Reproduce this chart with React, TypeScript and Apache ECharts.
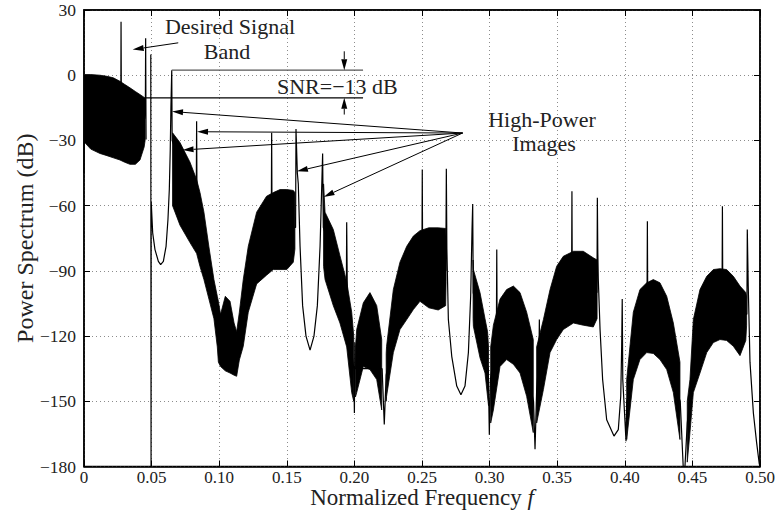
import React, { useEffect, useRef } from 'react';
import * as echarts from 'echarts';

const FONT = 'Liberation Serif, DejaVu Serif, serif';

// Axis ranges / tick labels
const X_MIN = 0, X_MAX = 0.5, X_STEP = 0.05;
const Y_MIN = -180, Y_MAX = 30, Y_STEP = 30;
const xTickLabels = ['0', '0.05', '0.10', '0.15', '0.20', '0.25', '0.30', '0.35', '0.40', '0.45', '0.50'];
const yTickLabels = ['\u2212180', '\u2212150', '\u2212120', '\u221290', '\u221260', '\u221230', '0', '30'];

// Dense (rapidly oscillating) spectrum regions: [f, upper envelope dB, lower envelope dB]
const band1 = [[0.0006, 0.3, -31], [0.005, 0.3, -34], [0.0118, 0, -36], [0.017, -0.5, -37], [0.0217, -1.2, -38], [0.0266, -2.8, -39], [0.030, -4.2, -40], [0.034, -5.8, -41], [0.038, -7.5, -41], [0.0414, -8.9, -39], [0.0445, -10.2, -33], [0.0452, -10.4, -30]];
const band2 = [[0.0655, -26.5, -60], [0.071, -31, -69], [0.0784, -40, -77], [0.0833, -48, -82], [0.0858, -54, -88], [0.0887, -63, -94], [0.0924, -79, -103], [0.0961, -94, -112], [0.0986, -101.7, -125], [0.0994, -104, -132], [0.101, -110, -134], [0.1045, -101.7, -136], [0.108, -104, -137], [0.111, -114, -138], [0.1129, -118, -138.5], [0.1149, -109, -131], [0.1178, -94, -124.7], [0.1215, -78.7, -109], [0.1277, -63, -96], [0.135, -55.7, -92], [0.14, -54, -89.4], [0.145, -52.6, -89.4], [0.15, -52.6, -89.4], [0.1548, -53, -86], [0.156, -54, -80]];
const band3 = [[0.1772, -50, -88], [0.1783, -63, -94], [0.1844, -71, -106], [0.1893, -83, -114], [0.1943, -95, -125], [0.198, -109, -146], [0.1995, -120, -150]];
const band4 = [[0.2008, -125, -148], [0.2017, -117, -146], [0.2066, -104.7, -134], [0.2115, -100, -135.4], [0.2165, -106, -140], [0.2202, -121.6, -154]];
const band5 = [[0.2235, -128, -150], [0.2238, -124.7, -147.7], [0.2288, -98.6, -127.6], [0.2337, -86, -117], [0.2387, -78.7, -112.4], [0.2436, -74, -107.8], [0.2485, -71.5, -104], [0.255, -70.2, -107], [0.262, -70.2, -108], [0.2675, -70.5, -106], [0.2678, -75, -95]];
const band6 = [[0.2878, -85, -112], [0.288, -89.4, -115.5], [0.2929, -100, -130], [0.2966, -112, -137], [0.2985, -118, -148], [0.2992, -125, -152]];
const band7 = [[0.3008, -125, -160], [0.3028, -115, -154], [0.3077, -103, -134], [0.3126, -98.6, -130.8], [0.3176, -97, -133], [0.3225, -100, -137], [0.3274, -109, -147.7], [0.3323, -121.6, -164.4]];
const band8 = [[0.3348, -125, -160], [0.3398, -112.4, -144.6], [0.3447, -98.6, -127.6], [0.3496, -87.9, -121.6], [0.3545, -83.3, -117], [0.362, -81, -114], [0.3693, -81, -115], [0.3767, -84, -115.8], [0.3795, -85, -112]];
const band9 = [[0.4014, -140, -167.6], [0.4063, -109, -140], [0.4112, -98.6, -130.8], [0.4162, -95.5, -127.6], [0.4211, -94, -128], [0.426, -95.5, -130.8], [0.431, -101.7, -135.4], [0.4359, -114, -146], [0.4408, -132, -167.6]];
const band10 = [[0.4462, -150, -178], [0.4482, -140, -164.4], [0.4507, -112.4, -146], [0.4556, -98.6, -137], [0.4606, -92.5, -127.6], [0.4655, -89.4, -123], [0.4704, -89, -121.6], [0.4753, -89.4, -122], [0.4803, -92.5, -124.7], [0.4852, -97, -129], [0.4895, -100, -122], [0.4901, -102, -115]];
const bands = [band1, band2, band3, band4, band5, band6, band7, band8, band9, band10];

// Spectrum trace (spikes, image lobes, nulls): [f, dB]
const traceLow = [[0, -45], [0.0006, 0], [0.0012, -20], [0.0272, -20], [0.0274, 24.6], [0.0277, -22], [0.0448, -20], [0.0454, -12], [0.0456, 17], [0.0459, -29.6]];
const traceMain = [
  [0.0494, 9.5], [0.0496, -180], [0.0497, -58], [0.0508, -72.5], [0.0525, -80.2], [0.055, -85.6], [0.0567, -87.1], [0.0587, -85.6], [0.0607, -78.7], [0.0621, -66.4], [0.0631, -52.6], [0.0638, -34.2], [0.0643, -14.3], [0.0649, 2.3], [0.0652, -30],
  [0.083, -60], [0.0833, -21.2], [0.0836, -62], [0.0887, -80], [0.0961, -104], [0.1045, -120], [0.1129, -130], [0.1178, -110], [0.1215, -95], [0.1277, -80], [0.135, -72], [0.1385, -70], [0.1388, -26.5], [0.1391, -70],
  [0.1565, -70], [0.1568, -24.7], [0.1578, -45], [0.1585, -50], [0.1598, -78.7], [0.1617, -106], [0.1642, -120], [0.1672, -126.5], [0.1701, -120], [0.1726, -106], [0.1746, -78.7], [0.1758, -52], [0.1765, -36], [0.177, -70],
  [0.1940, -105], [0.1943, -67.6], [0.1949, -110], [0.1995, -135], [0.2, -155.4], [0.2003, -123], [0.2007, -135], [0.2205, -135], [0.2221, -160.7], [0.2235, -138], [0.2337, -105],
  [0.2499, -90], [0.2502, -43.4], [0.2505, -90], [0.2676, -90], [0.268, -43], [0.2684, -80], [0.2695, -112.4], [0.272, -129.3], [0.2757, -143], [0.2788, -147], [0.2818, -143], [0.2843, -127.7], [0.286, -101.7], [0.287, -71], [0.2875, -59.2], [0.2879, -100],
  [0.299, -135], [0.2998, -165.4], [0.3006, -140], [0.305, -120], [0.3053, -80.2], [0.3056, -120], [0.3225, -120], [0.3325, -150], [0.3336, -172], [0.3348, -145], [0.3365, -130], [0.3368, -112.4], [0.3371, -130],
  [0.3606, -100], [0.3609, -53.4], [0.3612, -100], [0.3794, -100], [0.3797, -56.4], [0.38, -80], [0.3804, -94], [0.3817, -117], [0.3836, -140], [0.3866, -158.5], [0.392, -166], [0.3952, -163], [0.397, -147.7], [0.3977, -124.7], [0.3981, -103], [0.3985, -140], [0.4009, -168.4], [0.4014, -150],
  [0.4164, -110], [0.4167, -67.2], [0.417, -110], [0.441, -150], [0.4432, -180], [0.4445, -180], [0.4462, -160], [0.4507, -135], [0.4719, -105], [0.4722, -60.3], [0.4725, -105], [0.4903, -110], [0.4906, -71], [0.4913, -97], [0.4926, -132], [0.4951, -155.4], [0.4975, -169], [0.4994, -178.5], [0.5, -180],
];

// Annotation lines (data coordinates)
const snrTopLine = [[0.0649, 2.3], [0.2064, 2.3]];
const snrBottomLine = [[0.0452, -10.4], [0.2064, -10.4]];
// Arrows: [fromF, fromDb, toF, toDb]
const arrows = [
  [0.0697, 14.9, 0.036, 11.8],
  [0.1925, 11, 0.1925, 2.3],
  [0.1925, -18.1, 0.1925, -10.4],
  [0.28, -26.6, 0.0651, -16.7],
  [0.28, -26.6, 0.0836, -26.0],
  [0.28, -26.6, 0.0729, -34.4],
  [0.28, -26.6, 0.1575, -44.2],
  [0.28, -26.6, 0.1772, -56],
];

export default function App() {
  const ref = useRef<HTMLDivElement>(null);
  useEffect(() => {
    document.body.style.margin = '0';
    if (!ref.current) return;
    const chart = echarts.init(ref.current, undefined, { renderer: 'svg' });
    const xFmt = (v: number) => xTickLabels[Math.round((v - X_MIN) / X_STEP)] ?? '';
    const yFmt = (v: number) => yTickLabels[Math.round((v - Y_MIN) / Y_STEP)] ?? '';
    const tickStyle = { show: true, inside: true, length: 6, lineStyle: { color: '#000', width: 1 } };
    const axisLine = { show: true, onZero: false, lineStyle: { color: '#000', width: 1.5 } };
    const grid = { show: true, left: 84, right: 20, top: 10, bottom: 57.5, borderColor: '#000', borderWidth: 1.5 };
    const splitLine = { show: true, lineStyle: { color: '#8c8c8c', type: [1, 3] as any, width: 1 } };
    const text = (t: string, x: number, y: number, align: string, size = 22) => ({
      type: 'text', x, y, silent: true, z: 10,
      style: { text: t, fill: '#222', fontFamily: FONT, fontSize: size, lineHeight: 20, textAlign: align, align, textVerticalAlign: 'middle', verticalAlign: 'middle' },
    });
    chart.setOption({
      animation: false,
      backgroundColor: '#fff',
      grid,
      xAxis: [
        {
          type: 'value', min: X_MIN, max: X_MAX, interval: X_STEP, position: 'bottom',
          axisLine, axisTick: tickStyle, splitLine,
          axisLabel: { formatter: xFmt, fontFamily: FONT, fontSize: 17, lineHeight: 17, color: '#222', margin: 2 },
          name: 'Normalized Frequency {i|f}', nameLocation: 'middle', nameGap: 20, nameMoveOverlap: false,
          nameTextStyle: { fontFamily: FONT, fontSize: 23, lineHeight: 22, color: '#222', rich: { i: { fontStyle: 'italic', fontFamily: FONT, fontSize: 23, lineHeight: 22, color: '#222' } } },
        },
        {
          type: 'value', min: X_MIN, max: X_MAX, interval: X_STEP, position: 'top',
          axisLine, axisTick: tickStyle, axisLabel: { show: false }, splitLine: { show: false },
        },
      ],
      yAxis: [
        {
          type: 'value', min: Y_MIN, max: Y_MAX, interval: Y_STEP, position: 'left',
          axisLine, axisTick: tickStyle, splitLine,
          axisLabel: { formatter: yFmt, fontFamily: FONT, fontSize: 17.5, color: '#222', margin: 8 },
          name: 'Power Spectrum (dB)', nameLocation: 'middle', nameGap: 47, nameRotate: 90, nameMoveOverlap: false,
          nameTextStyle: { fontFamily: FONT, fontSize: 24, color: '#222' },
        },
        {
          type: 'value', min: Y_MIN, max: Y_MAX, interval: Y_STEP, position: 'right',
          axisLine, axisTick: tickStyle, axisLabel: { show: false }, splitLine: { show: false },
        },
      ],
      series: [
        {
          type: 'custom', name: 'dense', z: 4, silent: true,
          data: bands.map((b) => [b[0][0], b[0][1]]),
          renderItem: (params: any, api: any) => {
            const b = bands[params.dataIndex];
            const pts: number[][] = [];
            for (const p of b) pts.push(api.coord([p[0], p[1]]));
            for (let i = b.length - 1; i >= 0; i--) pts.push(api.coord([b[i][0], b[i][2]]));
            return { type: 'polygon', shape: { points: pts }, style: { fill: '#000', stroke: '#000', lineWidth: 0.8 } };
          },
        },
        { type: 'line', data: traceLow, symbol: 'none', z: 3, silent: true, lineStyle: { color: '#000', width: 1.2 } },
        { type: 'line', data: traceMain, symbol: 'none', z: 3, silent: true, lineStyle: { color: '#000', width: 1.2 } },
        { type: 'line', data: snrTopLine, symbol: 'none', z: 5, silent: true, lineStyle: { color: '#555', width: 1.2 } },
        { type: 'line', data: snrBottomLine, symbol: 'none', z: 5, silent: true, lineStyle: { color: '#000', width: 1.2 } },
        {
          type: 'custom', name: 'arrows', z: 6, silent: true,
          data: arrows, encode: { x: [0, 2], y: [1, 3] },
          renderItem: (_params: any, api: any) => {
            const p1 = api.coord([api.value(0), api.value(1)]);
            const p2 = api.coord([api.value(2), api.value(3)]);
            const dx = p2[0] - p1[0], dy = p2[1] - p1[1];
            const len = Math.hypot(dx, dy) || 1;
            const ux = dx / len, uy = dy / len;
            const L = 11, W = 3;
            const bx = p2[0] - ux * L, by = p2[1] - uy * L;
            return {
              type: 'group',
              children: [
                { type: 'line', shape: { x1: p1[0], y1: p1[1], x2: bx, y2: by }, style: { stroke: '#000', lineWidth: 1 } },
                { type: 'polygon', shape: { points: [[p2[0], p2[1]], [bx - uy * W, by + ux * W], [bx + uy * W, by - ux * W]] }, style: { fill: '#000' } },
              ],
            };
          },
        },
      ],
      graphic: [
        text('Desired Signal', 230, 26, 'center'),
        text('Band', 227, 51, 'center'),
        text('SNR=\u221213 dB', 277, 86, 'left'),
        text('High-Power', 542, 119, 'center'),
        text('Images', 544, 143, 'center'),
      ],
    });
    return () => chart.dispose();
  }, []);
  return <div ref={ref} style={{ width: 780, height: 524 }} />;
}
